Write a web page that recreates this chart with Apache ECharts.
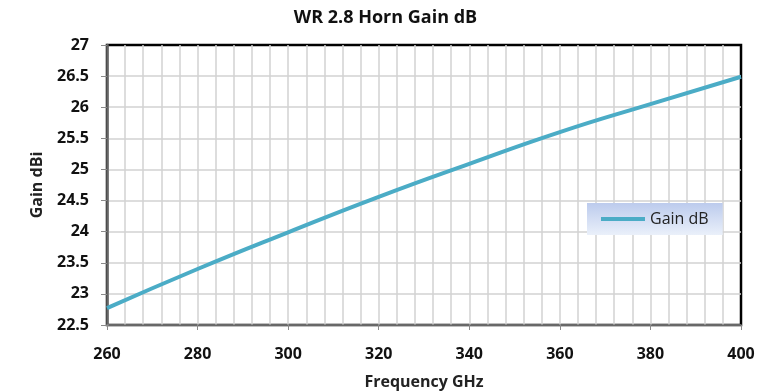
<!DOCTYPE html>
<html>
<head>
<meta charset="utf-8">
<script src="https://cdn.jsdelivr.net/npm/echarts@6/dist/echarts.min.js"></script>
<style>
  html, body { margin: 0; padding: 0; background: #fff; }
  #chart { width: 771px; height: 392px; }
</style>
</head>
<body>
<div id="chart"></div>
<script>
// Horn antenna gain across the WR 2.8 band
const frequencyGHz = [260, 280, 300, 320, 340, 360, 380, 400];
const gainDb = [22.77, 23.40, 23.99, 24.56, 25.09, 25.60, 26.05, 26.49];

const font = '"Open Sans", "Liberation Sans", sans-serif';

const chart = echarts.init(document.getElementById('chart'), null, { renderer: 'canvas' });

chart.setOption({
  backgroundColor: '#ffffff',
  animation: false,
  title: {
    text: 'WR 2.8 Horn Gain dB',
    left: 'center',
    top: 4,
    textStyle: { fontFamily: font, fontSize: 18, fontWeight: 'bold', color: '#111' }
  },
  grid: {
    left: 107, right: 30, top: 45, bottom: 67,
    outerBoundsMode: 'none',
    containLabel: false,
    show: true,
    borderColor: '#000',
    borderWidth: 2.5,
    backgroundColor: 'transparent'
  },
  legend: {
    left: 587, top: 203,
    width: 100,
    padding: [8, 14, 8, 14],
    itemWidth: 44, itemHeight: 4,
    itemGap: 6,
    backgroundColor: new echarts.graphic.LinearGradient(0, 0, 0, 1, [
      { offset: 0, color: '#bccbed' },
      { offset: 1, color: '#eaf0fa' }
    ]),
    textStyle: { fontFamily: font, fontSize: 16, color: '#222' },
    data: [{ name: 'Gain dB', icon: 'rect' }]
  },
  xAxis: {
    type: 'value',
    min: 260, max: 400, interval: 20,
    name: 'Frequency GHz',
    nameLocation: 'middle',
    nameGap: 49,
    nameTextStyle: { fontFamily: font, fontSize: 16, fontWeight: 'bold', color: '#222' },
    axisLine: { show: true, onZero: false, lineStyle: { color: '#8a8a8a', width: 1.5 } },
    axisTick: { show: true, inside: false, length: 5, lineStyle: { color: '#8a8a8a' } },
    axisLabel: { margin: 21, fontFamily: font, fontSize: 16, fontWeight: 'bold', color: '#111' },
    splitLine: { show: true, showMinLine: false, showMaxLine: false, lineStyle: { color: '#d2d2d2', width: 1.5 } },
    minorTick: { show: false, splitNumber: 5 },
    minorSplitLine: { show: true, lineStyle: { color: '#d2d2d2', width: 1.5 } }
  },
  yAxis: {
    type: 'value',
    min: 22.5, max: 27, interval: 0.5,
    name: 'Gain dBi',
    nameLocation: 'middle',
    nameGap: 62,
    nameRotate: 90,
    nameTextStyle: { fontFamily: font, fontSize: 16, fontWeight: 'bold', color: '#222' },
    axisLine: { show: true, lineStyle: { color: '#666', width: 2.5 } },
    axisTick: { show: true, inside: false, length: 6, lineStyle: { color: '#8a8a8a' } },
    axisLabel: { margin: 18, fontFamily: font, fontSize: 16, fontWeight: 'bold', color: '#111' },
    splitLine: { show: true, showMinLine: false, showMaxLine: false, lineStyle: { color: '#d2d2d2', width: 1.5 } }
  },
  series: [{
    name: 'Gain dB',
    type: 'line',
    data: frequencyGHz.map((f, i) => [f, gainDb[i]]),
    smooth: true,
    showSymbol: false,
    lineStyle: { color: '#4bacc6', width: 4 },
    itemStyle: { color: '#4bacc6' }
  }]
});
</script>
</body>
</html>
